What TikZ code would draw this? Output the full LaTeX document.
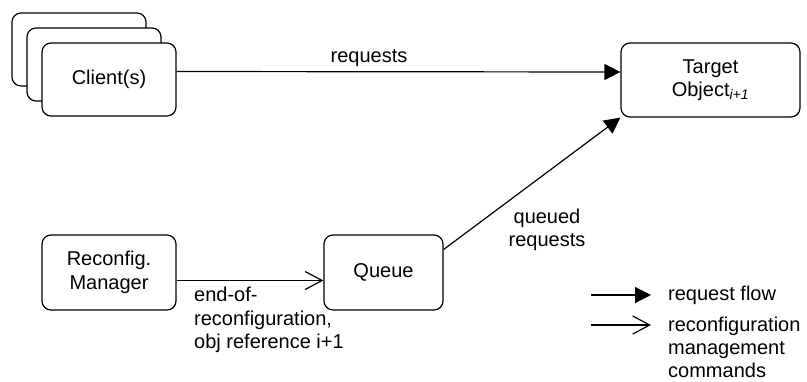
\documentclass[tikz,border=0pt]{standalone}
\usepackage{fontspec}
\setmainfont{Liberation Sans}
\usetikzlibrary{arrows.meta}
\begin{document}
\begin{tikzpicture}[x=1pt,y=-1pt,
 box/.style={draw,line width=1.2pt,rounded corners=9pt,fill=white,inner sep=0pt,align=center,font=\fontsize{20}{23.5}\selectfont},
 req/.style={line width=1.2pt,-{Triangle[length=16pt,width=16pt]}},
 cfg/.style={line width=1.2pt,-{Straight Barb[length=17pt,width=18pt,line width=1.2pt]}},
 lbl/.style={font=\fontsize{20}{23.5}\selectfont,inner sep=0pt}]
\useasboundingbox (0,0) rectangle (807,381);
% clients stack
\node[box,minimum width=134pt,minimum height=73pt] (c3) at (79,49.5) {};
\node[box,minimum width=134pt,minimum height=73pt] (c2) at (94,64.5) {};
\node[box,minimum width=134pt,minimum height=73pt] (client) at (109,79.5) {Client(s)};
% target
\node[box,minimum width=179pt,minimum height=74pt] (target) at (710.5,80) {Target\\Object\textsubscript{\itshape i+1}};
% manager and queue
\node[box,minimum width=134pt,minimum height=75pt] (rm) at (109,272.5) {Reconfig.\\Manager};
\node[box,minimum width=119pt,minimum height=75pt] (queue) at (383.5,272.5) {Queue};
% connectors
\draw[req] ([yshift=8pt]client.east) -- ([yshift=8pt]target.west);
\draw[cfg] ([yshift=-8pt]rm.east) -- ([yshift=-8pt]queue.west);
\draw[req] ([yshift=23pt]queue.east) -- (target.south west);
% labels
\node[lbl] (lreq) at (369,58) {requests};
\node[lbl,align=center] (lq) at (547,230) {queued\\requests};
\node[lbl,align=left,anchor=west] (leor) at (194,320) {end-of-\\reconfiguration,\\obj reference i+1};
% legend
\coordinate (l1a) at (591,295);
\coordinate (l1b) at (651,295);
\coordinate (l2a) at (591,325);
\coordinate (l2b) at (651,325);
\draw[req] (l1a) -- (l1b);
\draw[cfg] (l2a) -- (l2b);
\node[lbl,anchor=west] (lg1) at (668,295) {request flow};
\node[lbl,anchor=west,align=left,font=\fontsize{20}{23}\selectfont] (lg2) at (668,347) {reconfiguration\\management\\commands};
\end{tikzpicture}
\end{document}
